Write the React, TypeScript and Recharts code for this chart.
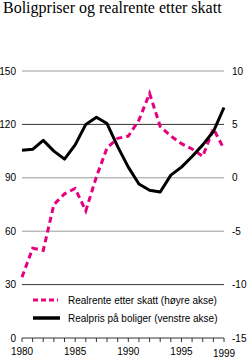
import { LineChart, Line, XAxis, YAxis, ReferenceLine } from 'recharts';

const years = [
  1980, 1981, 1982, 1983, 1984, 1985, 1986, 1987, 1988, 1989,
  1990, 1991, 1992, 1993, 1994, 1995, 1996, 1997, 1998, 1999,
];
// Realpris på boliger (venstre akse)
const realpris = [
  105.5, 106, 111, 105, 100.5, 108.5, 120, 124, 120.5, 107.5,
  96, 86.5, 83, 82, 91.5, 96, 102, 108.5, 116, 129.5,
];
// Realrente etter skatt (høyre akse)
const realrente = [
  -9.3, -6.6, -6.8, -2.5, -1.5, -1.0, -3.1, 0.1, 2.8, 3.7,
  3.9, 5.4, 7.9, 4.8, 3.9, 3.2, 2.7, 2.0, 4.6, 2.7,
];
const leftTicks = [0, 30, 60, 90, 120, 150];
const rightTicks = [-15, -10, -5, 0, 5, 10];
const labelYears = [1980, 1985, 1990, 1995, 1999];
const darkGrid = [30, 120];
const greyGrid = [60, 90, 150];

const COLORS = {
  pink: '#e5007e',
  black: '#000000',
  grey: '#9a9a9a',
  dark: '#333333',
  text: '#000000',
};

const FONT = '"Liberation Sans", Arial, sans-serif';

const data = years.map((year, i) => ({
  year,
  realpris: realpris[i],
  realrente: realrente[i],
}));

function YearTick(props: any) {
  const { x, y, payload } = props;
  if (!labelYears.includes(payload.value)) return null;
  const shift = payload.value === 1999 ? 2 : 0;
  return (
    <text
      x={x}
      y={y + shift}
      dy='0.71em'
      textAnchor='middle'
      fontSize={10}
      fontFamily={FONT}
      fill={COLORS.text}
    >
      {payload.value}
    </text>
  );
}

function LegendBox() {
  return (
    <svg width={230} height={34} style={{ display: 'block' }}>
      <line x1={33} x2={58} y1={10} y2={10} stroke={COLORS.pink} strokeWidth={3} strokeDasharray='5 3' />
      <text x={68} y={14} fontSize={10} fontFamily={FONT} fill={COLORS.text}>
        Realrente etter skatt (høyre akse)
      </text>
      <line x1={33} x2={60} y1={28} y2={28} stroke={COLORS.black} strokeWidth={3.5} />
      <text x={68} y={32} fontSize={10} fontFamily={FONT} fill={COLORS.text}>
        Realpris på boliger (venstre akse)
      </text>
    </svg>
  );
}

export default function App() {
  return (
    <div style={{ position: 'absolute', left: 0, top: 0, width: 247, height: 358, background: '#fff' }}>
      <div
        style={{
          position: 'absolute',
          left: 3,
          top: 0,
          fontFamily: '"Liberation Serif", "Times New Roman", serif',
          fontSize: 16,
          lineHeight: '16px',
          whiteSpace: 'nowrap',
          color: COLORS.text,
        }}
      >
        Boligpriser og realrente etter skatt
      </div>
      <LineChart
        width={247}
        height={358}
        data={data}
        margin={{ top: 71, right: 0, bottom: 0, left: 0 }}
      >
        <XAxis
          dataKey='year'
          type='number'
          domain={[1980, 1999]}
          ticks={years}
          interval={0}
          height={20}
          tickSize={4}
          tickMargin={6}
          axisLine={{ stroke: COLORS.dark }}
          tickLine={{ stroke: COLORS.dark }}
          tick={<YearTick />}
        />
        <YAxis
          yAxisId='left'
          orientation='left'
          domain={[0, 150]}
          ticks={leftTicks}
          width={22}
          tickSize={0}
          tickMargin={6}
          axisLine={false}
          tickLine={false}
          tick={{ fontSize: 10, fill: COLORS.text, fontFamily: FONT }}
        />
        <YAxis
          yAxisId='right'
          orientation='right'
          domain={[-15, 10]}
          ticks={rightTicks}
          width={23}
          tickSize={0}
          tickMargin={8}
          axisLine={false}
          tickLine={false}
          tick={{ fontSize: 10, fill: COLORS.text, fontFamily: FONT, textAnchor: 'start' }}
        />
        {greyGrid.map((v) => (
          <ReferenceLine key={`g-${v}`} yAxisId='left' y={v} stroke={COLORS.grey} strokeWidth={1} />
        ))}
        {darkGrid.map((v) => (
          <ReferenceLine key={`d-${v}`} yAxisId='left' y={v} stroke={COLORS.dark} strokeWidth={1} />
        ))}
        <Line
          yAxisId='right'
          type='linear'
          dataKey='realrente'
          stroke={COLORS.pink}
          strokeWidth={3}
          strokeDasharray='6 4'
          dot={false}
          isAnimationActive={false}
        />
        <Line
          yAxisId='left'
          type='linear'
          dataKey='realpris'
          stroke={COLORS.black}
          strokeWidth={3}
          strokeLinejoin='round'
          dot={false}
          isAnimationActive={false}
        />
      </LineChart>
      <div style={{ position: 'absolute', left: 0, top: 290 }}>
        <LegendBox />
      </div>
    </div>
  );
}
